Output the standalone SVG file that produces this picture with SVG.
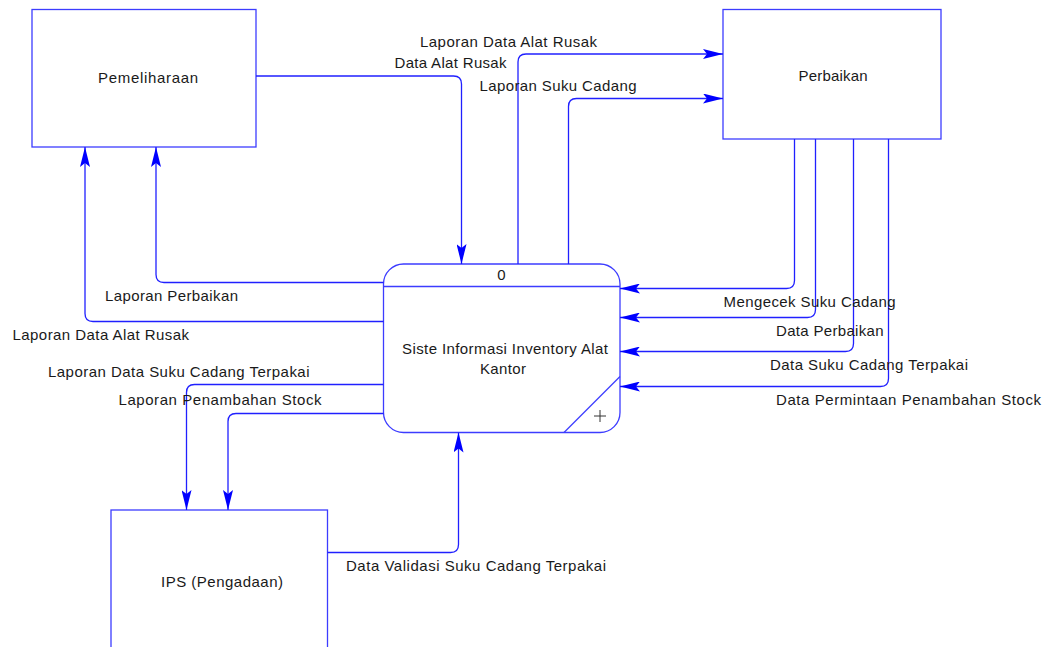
<svg xmlns="http://www.w3.org/2000/svg" width="1048" height="647" viewBox="0 0 1048 647">
<style>
.box{fill:#ffffff;stroke:#3c3cff;stroke-width:1.3}
.flow{fill:none;stroke:#2020ff;stroke-width:1.3;marker-end:url(#ah)}
text{font-family:"Liberation Sans",Arial,sans-serif;font-size:15px;fill:#1a1a1a}
.c{text-anchor:middle}
</style>
<defs>
<marker id="ah" viewBox="0 0 20 10" refX="20" refY="5" markerWidth="20" markerHeight="10" orient="auto" markerUnits="userSpaceOnUse">
<path d="M0,0 L20,5 L0,10 L4,5 Z" fill="#0000ff"/>
</marker>
</defs>
<rect width="1048" height="647" fill="#ffffff"/>

<g id="pemeliharaan">
<rect class="box" x="32" y="9.5" width="224" height="137.5"/>
<text class="c" x="148" y="83" textLength="100" lengthAdjust="spacing">Pemeliharaan</text>
</g>

<g id="perbaikan">
<rect class="box" x="723" y="9.5" width="218" height="129.5"/>
<text class="c" x="833" y="81" textLength="69" lengthAdjust="spacing">Perbaikan</text>
</g>

<g id="proses">
<rect class="box" x="383.5" y="264" width="236.5" height="168.5" rx="20" ry="20"/>
<line x1="383.5" y1="286.5" x2="620" y2="286.5" stroke="#3c3cff" stroke-width="1.3"/>
<line x1="620" y1="376.5" x2="564" y2="432.5" stroke="#3c3cff" stroke-width="1.3"/>
<text class="c" x="501.5" y="280">0</text>
<text class="c" x="505" y="354" textLength="206" lengthAdjust="spacing">Siste Informasi Inventory Alat</text>
<text class="c" x="503" y="374" textLength="46" lengthAdjust="spacing">Kantor</text>
<path d="M594,416 H606 M600,410 V422" stroke="#333333" stroke-width="1" fill="none"/>
</g>

<g id="ips">
<rect class="box" x="111" y="510" width="216.5" height="160"/>
<text class="c" x="222" y="587" textLength="122" lengthAdjust="spacing">IPS (Pengadaan)</text>
</g>

<g id="connectors">
<path class="flow" d="M256,76 H453.5 Q461.5,76 461.5,84 V264"/>
<path class="flow" d="M518,264 V62 Q518,54 526,54 H723"/>
<path class="flow" d="M568.5,264 V106.5 Q568.5,98.5 576.5,98.5 H723"/>
<path class="flow" d="M383.5,282.5 H164 Q156,282.5 156,274.5 V147"/>
<path class="flow" d="M383.5,321.5 H93 Q85,321.5 85,313.5 V147"/>
<path class="flow" d="M383.5,384.5 H194.5 Q186.5,384.5 186.5,392.5 V510"/>
<path class="flow" d="M383.5,413.5 H236 Q228,413.5 228,421.5 V510"/>
<path class="flow" d="M327.5,552.5 H450.5 Q458.5,552.5 458.5,544.5 V432.5"/>
<path class="flow" d="M794.5,139 V280.5 Q794.5,288.5 786.5,288.5 H620"/>
<path class="flow" d="M815.5,139 V309.5 Q815.5,317.5 807.5,317.5 H620"/>
<path class="flow" d="M853.5,139 V343.5 Q853.5,351.5 845.5,351.5 H620"/>
<path class="flow" d="M888.5,139 V378.5 Q888.5,386.5 880.5,386.5 H620"/>
</g>

<g id="labels">
<text x="420" y="47" textLength="177" lengthAdjust="spacing">Laporan Data Alat Rusak</text>
<text x="394.5" y="68" textLength="112" lengthAdjust="spacing">Data Alat Rusak</text>
<text x="479.5" y="91" textLength="157" lengthAdjust="spacing">Laporan Suku Cadang</text>
<text x="105" y="301" textLength="133" lengthAdjust="spacing">Laporan Perbaikan</text>
<text x="12.5" y="340" textLength="176.5" lengthAdjust="spacing">Laporan Data Alat Rusak</text>
<text x="48" y="377" textLength="261.5" lengthAdjust="spacing">Laporan Data Suku Cadang Terpakai</text>
<text x="118.5" y="405" textLength="203" lengthAdjust="spacing">Laporan Penambahan Stock</text>
<text x="346" y="571" textLength="260" lengthAdjust="spacing">Data Validasi Suku Cadang Terpakai</text>
<text x="723.5" y="306.5" textLength="172" lengthAdjust="spacing">Mengecek Suku Cadang</text>
<text x="776" y="336" textLength="107.5" lengthAdjust="spacing">Data Perbaikan</text>
<text x="770" y="370" textLength="198" lengthAdjust="spacing">Data Suku Cadang Terpakai</text>
<text x="776" y="405" textLength="265" lengthAdjust="spacing">Data Permintaan Penambahan Stock</text>
</g>
</svg>
